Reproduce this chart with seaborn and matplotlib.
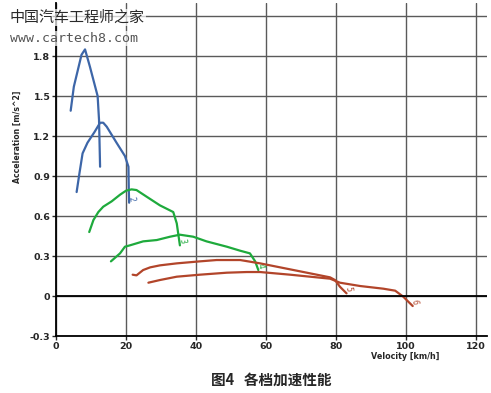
import pandas as pd
import matplotlib.pyplot as plt
import seaborn as sns

# 各档加速度曲线
g1_v = [4.2, 5.1, 7.3, 8.3, 9.7, 11.9, 12.3, 12.6]
g1_a = [1.39, 1.57, 1.81, 1.85, 1.72, 1.50, 1.32, 0.97]

g2_v = [5.9, 6.7, 7.6, 9.0, 11.0, 12.6, 13.5, 14.5, 17.3, 19.7, 20.7, 20.8, 20.9]
g2_a = [0.78, 0.92, 1.07, 1.15, 1.23, 1.30, 1.30, 1.27, 1.15, 1.05, 0.97, 0.80, 0.70]

g3_v = [9.5, 10.7, 12.1, 13.5, 15.9, 18.3, 20.0, 21.6, 23.0, 25.9, 29.7, 33.5, 34.5, 35.4]
g3_a = [0.48, 0.57, 0.63, 0.67, 0.71, 0.76, 0.79, 0.80, 0.795, 0.745, 0.68, 0.63, 0.545, 0.38]

g4_v = [15.7, 18.3, 19.7, 21.1, 24.9, 28.8, 32.6, 35.4, 39.2, 43.0, 48.8, 52.6, 55.4, 56.9, 57.8]
g4_a = [0.26, 0.32, 0.37, 0.38, 0.41, 0.42, 0.445, 0.46, 0.445, 0.41, 0.37, 0.34, 0.32, 0.26, 0.195]

g5_v = [21.9, 23.0, 24.9, 26.9, 29.7, 34.5, 41.1, 45.9, 52.6, 58.3, 66.9, 78.3, 79.7, 81.1, 83.0]
g5_a = [0.16, 0.155, 0.195, 0.215, 0.23, 0.245, 0.26, 0.27, 0.27, 0.245, 0.20, 0.14, 0.12, 0.07, 0.02]

g6_v = [26.4, 29.7, 34.5, 41.1, 48.8, 54.5, 58.3, 66.9, 78.3, 81.1, 86.9, 93.5, 96.9, 99.2, 101.9]
g6_a = [0.10, 0.12, 0.145, 0.16, 0.175, 0.18, 0.18, 0.16, 0.13, 0.10, 0.075, 0.055, 0.04, -0.005, -0.075]

gear_names = ['1', '2', '3', '4', '5', '6']
gear_colors = ['#3d66a8', '#3d66a8', '#1eaa3c', '#1eaa3c', '#b2452a', '#b2452a']

frames = []
for name, v, a in zip(gear_names, [g1_v, g2_v, g3_v, g4_v, g5_v, g6_v],
                      [g1_a, g2_a, g3_a, g4_a, g5_a, g6_a]):
    frames.append(pd.DataFrame({'Velocity': v, 'Acceleration': a, 'Gear': name}))
df = pd.concat(frames, ignore_index=True)

sns.set_style("white")
plt.rcParams['font.family'] = ['DejaVu Sans', 'Noto Sans CJK SC']

fig = plt.figure(figsize=(4.91, 3.93), dpi=100)
ax = fig.add_axes([0.114, 0.145, 0.877, 0.848])

sns.lineplot(data=df, x='Velocity', y='Acceleration', hue='Gear', palette=gear_colors,
             sort=False, estimator=None, linewidth=1.6, legend=False, ax=ax)

# 档位标记
for name, v, a, c in zip(gear_names[1:], [g2_v, g3_v, g4_v, g5_v, g6_v],
                         [g2_a, g3_a, g4_a, g5_a, g6_a], gear_colors[1:]):
    ax.text(v[-1] + 0.6, a[-1] + 0.03, name, color=c, fontsize=5.5, rotation=-80,
            ha='center', va='center')

ax.set_xlim(0, 123)
ax.set_ylim(-0.3, 2.2)
ax.set_xticks([0, 20, 40, 60, 80, 100, 120])
ax.set_yticks([-0.3, 0, 0.3, 0.6, 0.9, 1.2, 1.5, 1.8, 2.1])
ax.set_yticklabels(['-0.3', '0', '0.3', '0.6', '0.9', '1.2', '1.5', '1.8', ''])
ax.grid(True, color='#5a5a5a', linewidth=1.0)
ax.axhline(0, color='black', linewidth=1.3)
for s in ['top', 'right']:
    ax.spines[s].set_visible(False)
for s in ['left', 'bottom']:
    ax.spines[s].set_color('black')
    ax.spines[s].set_linewidth(1.3)
ax.tick_params(axis='both', labelsize=6.8, length=3, width=1, direction='out',
               left=True, bottom=True, pad=1)
for lbl in ax.get_xticklabels() + ax.get_yticklabels():
    lbl.set_fontweight('bold')

ax.set_xlabel('')
ax.set_ylabel('')
fig.text(0.035, 0.652, 'Acceleration [m/s^2]', rotation=90, fontsize=5.6,
         fontweight='bold', ha='center', va='center')
fig.text(0.825, 0.092, 'Velocity [km/h]', fontsize=5.8, fontweight='bold',
         ha='center', va='center')

# 图题
fig.text(0.552, 0.035, '图4   各档加速性能', fontsize=10.5, fontweight='bold',
         ha='center', va='center', family=['Noto Sans CJK SC', 'DejaVu Sans'])

# 水印
fig.text(0.02, 0.955, '中国汽车工程师之家', fontsize=10.8, color='#2a2a2a',
         ha='left', va='center', family=['Noto Sans CJK SC', 'DejaVu Sans'],
         bbox=dict(facecolor='white', edgecolor='none', alpha=0.7, pad=1))
fig.text(0.02, 0.902, 'www.cartech8.com', fontsize=9.5, color='#555555',
         ha='left', va='center', family='DejaVu Sans Mono',
         bbox=dict(facecolor='white', edgecolor='none', alpha=0.7, pad=1))

fig.savefig('out.png', dpi=100, facecolor='white')
